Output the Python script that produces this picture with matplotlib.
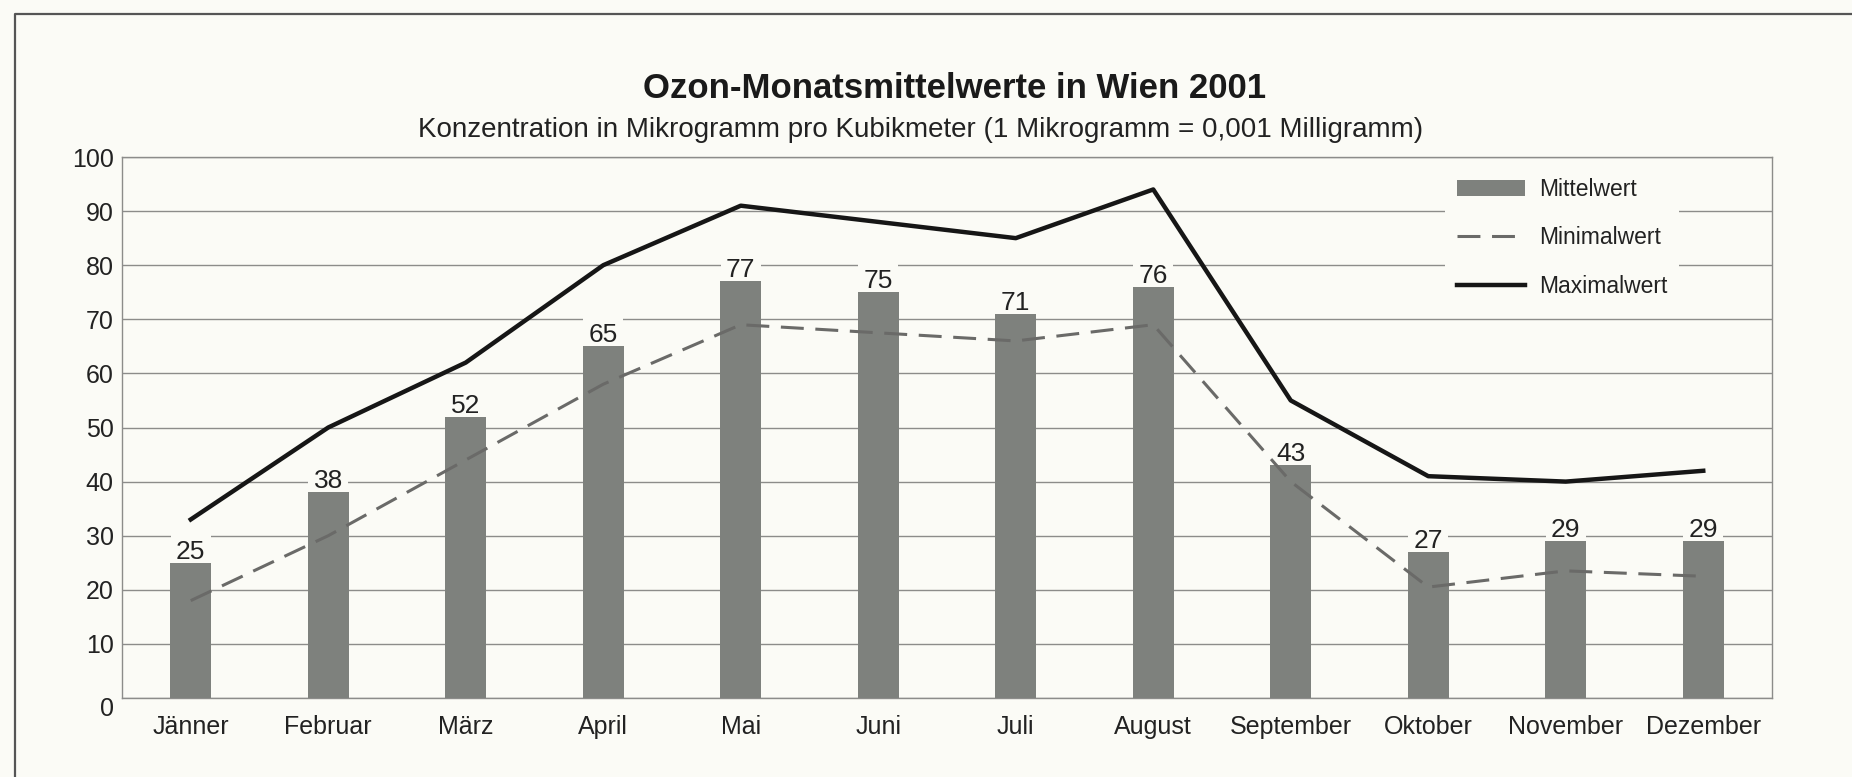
import matplotlib

matplotlib.use("Agg")
import matplotlib.pyplot as plt
import matplotlib.transforms as mtransforms
from matplotlib.lines import Line2D

plt.rcParams["font.family"] = ["Liberation Sans", "DejaVu Sans"]

months = ["Jänner", "Februar", "März", "April", "Mai", "Juni", "Juli",
          "August", "September", "Oktober", "November", "Dezember"]
mean_vals = [25, 38, 52, 65, 77, 75, 71, 76, 43, 27, 29, 29]
min_vals = [18, 30, 44, 58, 69, 67.5, 66, 69, 40, 20.5, 23.5, 22.5]
max_vals = [33, 50, 62, 80, 91, 88, 85, 94, 55, 41, 40, 42]
yticks = list(range(0, 101, 10))

title = "Ozon-Monatsmittelwerte in Wien 2001"
subtitle = "Konzentration in Mikrogramm pro Kubikmeter (1 Mikrogramm = 0,001 Milligramm)"

bg = "#fbfbf6"
bar_col = "#7e817d"
grid_col = "#8c8c8a"
W, H = 1852, 777

fig = plt.figure(figsize=(W / 100, H / 100), dpi=100, facecolor=bg)
ax = fig.add_axes([122 / W, 1 - 698 / H, (1772 - 122) / W, (698 - 157) / H])
ax.set_facecolor(bg)

x = list(range(len(months)))
bars = ax.bar(x, mean_vals, width=0.3, color=bar_col, zorder=3, label="Mittelwert")
ln_min, = ax.plot(x, min_vals, color="#6a6a68", lw=2.2, ls=(0, (7.5, 3.8)), zorder=4,
                  label="Minimalwert")
ln_max, = ax.plot(x, max_vals, color="#161616", lw=3.2, zorder=5, label="Maximalwert")

# value labels: a background box breaks the gridlines, bars stay on top
for xi, v in zip(x, mean_vals):
    ax.annotate(str(v), (xi, v), xytext=(0, 3), textcoords="offset points",
                ha="center", va="baseline", fontsize=19, color="#222",
                zorder=2,
                bbox=dict(boxstyle="square,pad=0.2", fc=bg, ec="none"))

ax.set_xlim(-0.5, 11.5)
ax.set_ylim(0, 100)
ax.set_yticks(yticks)
ax.set_xticks(x)
ax.set_xticklabels(months)
ax.tick_params(length=0, labelsize=18, labelcolor="#222")
ax.tick_params(axis="x", pad=12)
ax.tick_params(axis="y", pad=6)
ax.yaxis.grid(True, color=grid_col, lw=1.0, zorder=0)
ax.set_axisbelow(True)
for s in ax.spines.values():
    s.set_color(grid_col)
    s.set_linewidth(1.0)

# the "0" label sits a bit below its gridline in the original
lab0 = ax.get_yticklabels()[0]
lab0.set_transform(lab0.get_transform()
                   + mtransforms.ScaledTranslation(0, -8 / 100, fig.dpi_scale_trans))

leg = ax.legend([bars, ln_min, ln_max], ["Mittelwert", "Minimalwert", "Maximalwert"],
                loc="center", bbox_to_anchor=(1562 / W, 1 - 238 / H),
                bbox_transform=fig.transFigure, fontsize=16.5, frameon=True,
                handlelength=3.0, handletextpad=0.6, labelspacing=1.1,
                borderpad=0.5)
leg.get_frame().set_facecolor(bg)
leg.get_frame().set_edgecolor("none")
leg.get_frame().set_alpha(1)
leg.set_zorder(7)
for t in leg.get_texts():
    t.set_color("#222")

fig.text(955 / W, 1 - 88 / H, title, ha="center", va="center",
         fontsize=25, fontweight="bold", color="#1a1a1a")
fig.text(921 / W, 1 - 130 / H, subtitle, ha="center", va="center",
         fontsize=20, color="#222")

# outer frame, cut off at right and bottom like the scan
fig.add_artist(Line2D([15 / W, 15 / W, 1.0], [0.0, 1 - 14 / H, 1 - 14 / H],
                      transform=fig.transFigure, color="#555", lw=1.6))

fig.savefig("out.png", dpi=100, facecolor=bg)
